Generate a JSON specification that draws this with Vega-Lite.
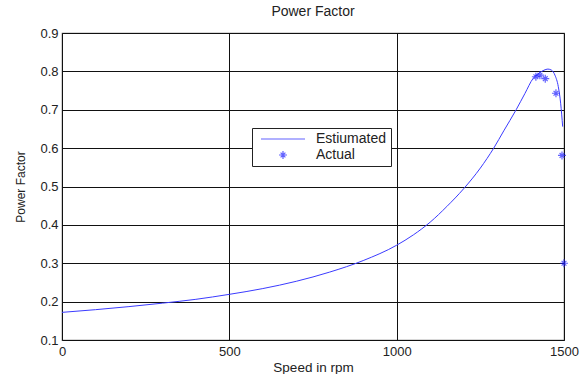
{
  "$schema": "https://vega.github.io/schema/vega-lite/v6.json",
  "width": 502,
  "height": 307,
  "autosize": {"type": "none"},
  "padding": {"left": 62, "top": 33, "right": 20, "bottom": 34},
  "background": "white",
  "title": {"text": "Power Factor", "fontSize": 14, "fontWeight": "normal", "font": "Liberation Sans", "color": "#222", "offset": 8},
  "config": {
    "view": {"stroke": "#666", "strokeWidth": 1.2},
    "axis": {
      "labelFont": "Liberation Sans", "labelFontSize": 13, "labelColor": "#222",
      "titleFont": "Liberation Sans", "titleFontSize": 13.5, "titleFontWeight": "normal", "titleColor": "#222",
      "gridColor": "#111", "gridWidth": 1, "gridOpacity": 1, "domain": false, "ticks": false,
      "labelOverlap": false, "labelFlush": false
    },
    "legend": {"labelFont": "Liberation Sans", "labelFontSize": 14, "labelColor": "#222"}
  },
  "datasets": {
    "est": [
      {"speed": 0, "pf": 0.172}, {"speed": 100, "pf": 0.179}, {"speed": 200, "pf": 0.187},
      {"speed": 300, "pf": 0.196}, {"speed": 400, "pf": 0.206}, {"speed": 500, "pf": 0.219},
      {"speed": 600, "pf": 0.234}, {"speed": 700, "pf": 0.253}, {"speed": 800, "pf": 0.277},
      {"speed": 900, "pf": 0.307}, {"speed": 1000, "pf": 0.347}, {"speed": 1050, "pf": 0.374},
      {"speed": 1100, "pf": 0.407}, {"speed": 1150, "pf": 0.448}, {"speed": 1200, "pf": 0.494},
      {"speed": 1250, "pf": 0.548}, {"speed": 1290, "pf": 0.6}, {"speed": 1320, "pf": 0.645},
      {"speed": 1357, "pf": 0.7}, {"speed": 1383, "pf": 0.742}, {"speed": 1408, "pf": 0.782},
      {"speed": 1425, "pf": 0.795}, {"speed": 1440, "pf": 0.803}, {"speed": 1452, "pf": 0.806},
      {"speed": 1463, "pf": 0.803}, {"speed": 1473, "pf": 0.79}, {"speed": 1483, "pf": 0.76},
      {"speed": 1490, "pf": 0.717}, {"speed": 1496, "pf": 0.656}
    ],
    "act": [
      {"speed": 1416, "pf": 0.786, "series": "Actual"},
      {"speed": 1428, "pf": 0.79, "series": "Actual"},
      {"speed": 1444, "pf": 0.781, "series": "Actual"},
      {"speed": 1476, "pf": 0.743, "series": "Actual"},
      {"speed": 1494, "pf": 0.581, "series": "Actual"},
      {"speed": 1500, "pf": 0.3, "series": "Actual"}
    ]
  },
  "layer": [
    {
      "data": {"name": "est"},
      "mark": {"type": "line", "color": "#3b3bff", "strokeWidth": 1, "interpolate": "monotone"},
      "encoding": {
        "x": {"field": "speed", "type": "quantitative", "scale": {"domain": [0, 1500], "nice": false},
          "axis": {"values": [0, 500, 1000, 1500], "format": "d", "title": "Speed in rpm", "labelPadding": 5, "titlePadding": 2}},
        "y": {"field": "pf", "type": "quantitative", "scale": {"domain": [0.1, 0.9], "nice": false, "zero": false},
          "axis": {"values": [0.1, 0.2, 0.3, 0.4, 0.5, 0.6, 0.7, 0.8, 0.9], "tickCount": 12, "format": ".1f", "title": "Power Factor", "titleFontSize": 12, "labelPadding": 4, "titlePadding": 12}}
      }
    },
    {
      "data": {"name": "act"},
      "mark": {"type": "point", "filled": false, "color": "#2020ff", "strokeWidth": 1.2, "size": 64, "clip": false},
      "encoding": {
        "x": {"field": "speed", "type": "quantitative"},
        "y": {"field": "pf", "type": "quantitative"},
        "shape": {"field": "series", "type": "nominal",
          "scale": {"domain": ["Estiumated", "Actual"], "range": ["M-5.5,0L5.5,0", "M-1,0L1,0M0,-1L0,1M-0.6,-0.6L0.6,0.6M-0.6,0.6L0.6,-0.6"]},
          "legend": {"title": null, "orient": "none", "legendX": 190, "legendY": 95,
            "strokeColor": "#222", "fillColor": "white", "padding": 4,
            "symbolSize": 64, "symbolStrokeColor": "#2020ff", "symbolStrokeWidth": 1.2, "symbolFillColor": "transparent",
            "symbolOffset": 20, "labelOffset": 26, "rowPadding": 2}}
      }
    }
  ]
}
